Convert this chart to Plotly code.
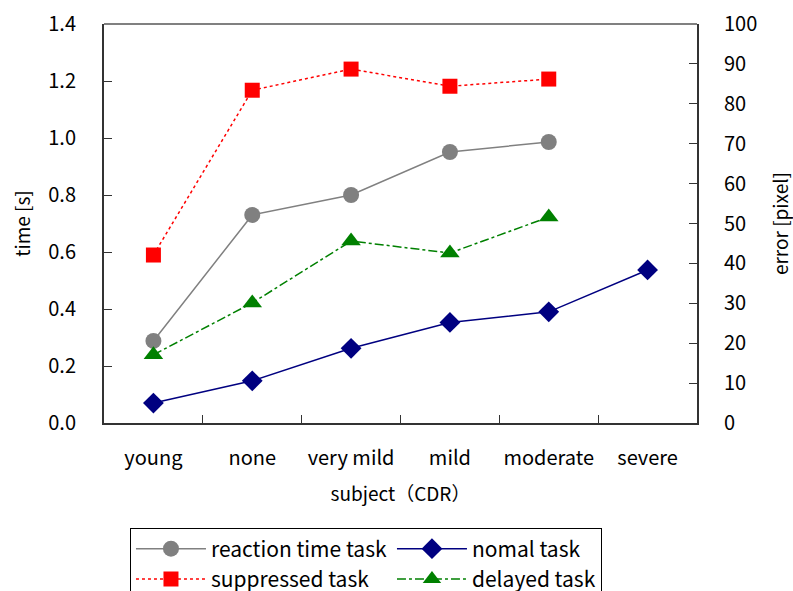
import plotly.graph_objects as go

categories = ["young", "none", "very mild", "mild", "moderate", "severe"]
reaction_time = [0.288, 0.730, 0.800, 0.951, 0.986]          # time [s]
nomal_task = [0.070, 0.148, 0.262, 0.353, 0.390, 0.537]      # time [s]
suppressed_err = [42.1, 83.4, 88.7, 84.4, 86.2]              # error [pixel]
delayed_err = [17.1, 30.1, 45.6, 42.6, 51.6]                 # error [pixel]

left_ticks = [0.0, 0.2, 0.4, 0.6, 0.8, 1.0, 1.2, 1.4]
left_ticktext = ["0.0", "0.2", "0.4", "0.6", "0.8", "1.0", "1.2", "1.4"]
right_ticks = [0, 10, 20, 30, 40, 50, 60, 70, 80, 90, 100]

FONT = "Noto Sans CJK JP"

fig = go.Figure()
fig.add_trace(go.Scatter(
    x=categories[:len(reaction_time)], y=reaction_time, name="reaction time task",
    mode="lines+markers", line=dict(color="#808080", width=1.5),
    marker=dict(symbol="circle", size=16, color="#808080"), yaxis="y"))
fig.add_trace(go.Scatter(
    x=categories[:len(nomal_task)], y=nomal_task, name="nomal task",
    mode="lines+markers", line=dict(color="#000080", width=1.5),
    marker=dict(symbol="diamond", size=16, color="#000080"), yaxis="y"))
fig.add_trace(go.Scatter(
    x=categories[:len(suppressed_err)], y=suppressed_err, name="suppressed task",
    mode="lines+markers", line=dict(color="#ff0000", width=1.5, dash="dot"),
    marker=dict(symbol="square", size=15, color="#ff0000"), yaxis="y2"))
fig.add_trace(go.Scatter(
    x=categories[:len(delayed_err)], y=delayed_err, name="delayed task",
    mode="lines+markers", line=dict(color="#008000", width=1.5, dash="dashdot"),
    marker=dict(symbol="triangle-up", size=17, color="#008000"), yaxis="y2"))

fig.update_layout(
    width=793, height=591,
    margin=dict(l=104, r=96, t=24, b=168, autoexpand=False),
    paper_bgcolor="white", plot_bgcolor="white",
    font=dict(family=FONT, size=18, color="black"),
    xaxis=dict(
        type="category", categoryorder="array", categoryarray=categories,
        range=[-0.5, 5.5], tickson="boundaries", ticks="inside", ticklen=8,
        tickcolor="#333", showline=True, linecolor="#333", linewidth=2,
        showgrid=False, zeroline=False, tickfont=dict(size=20), tickangle=0,
        ticklabelstandoff=16, automargin=False,
        title=dict(text="subject（CDR）", font=dict(size=19), standoff=18)),
    yaxis=dict(
        range=[0, 1.4], tickvals=left_ticks, ticktext=left_ticktext,
        ticks="inside", ticklen=8, tickcolor="#333", showline=True,
        linecolor="#333", linewidth=2, showgrid=False, zeroline=False,
        tickfont=dict(size=20), ticklabelstandoff=22, automargin=False,
        title=dict(text="time [s]", font=dict(size=19), standoff=13)),
    yaxis2=dict(
        range=[0, 100], tickvals=right_ticks, overlaying="y", side="right",
        ticks="inside", ticklen=8, tickcolor="#333", showline=True,
        linecolor="#333", linewidth=2, showgrid=False, zeroline=False,
        tickfont=dict(size=20), ticklabelstandoff=21, automargin=False,
        title=dict(text="error [pixel]", font=dict(size=19), standoff=37)),
    legend=dict(
        orientation="h", x=0.0438, y=-0.262, xanchor="left", yanchor="top",
        bordercolor="black", borderwidth=1, bgcolor="white",
        itemwidth=70,
        font=dict(size=21), tracegroupgap=0, traceorder="normal"),
    showlegend=True,
)
fig.add_shape(type="line", xref="paper", yref="paper", x0=0, x1=1, y0=1, y1=1,
              line=dict(color="#808080", width=2))

fig.write_html("out.html")
